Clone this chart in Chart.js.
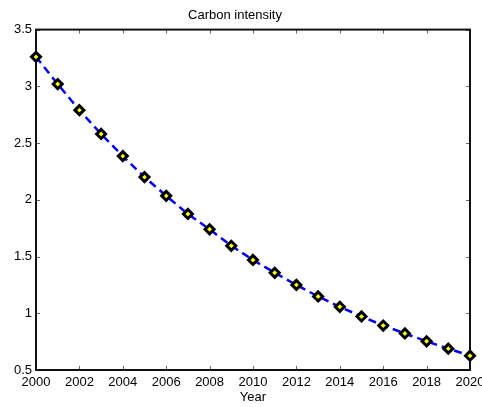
<!DOCTYPE html>
<html>
<head>
<meta charset="utf-8">
<script src="https://cdn.jsdelivr.net/npm/chart.js@4/dist/chart.umd.min.js"></script>
<style>
  html, body { margin: 0; padding: 0; background: #fff; }
  #wrap { width: 482px; height: 407px; }
</style>
</head>
<body>
<div id="wrap"><canvas id="myChart" width="482" height="407"></canvas></div>
<script>
// data
const years = [2000, 2001, 2002, 2003, 2004, 2005, 2006, 2007, 2008, 2009, 2010,
  2011, 2012, 2013, 2014, 2015, 2016, 2017, 2018, 2019, 2020];
const intensity = [3.26, 3.02, 2.79, 2.58, 2.385, 2.2, 2.035, 1.875, 1.74, 1.595, 1.47,
  1.357, 1.25, 1.148, 1.057, 0.972, 0.892, 0.822, 0.753, 0.688, 0.626];
const xTicks = [2000, 2002, 2004, 2006, 2008, 2010, 2012, 2014, 2016, 2018, 2020];
const yTicks = [0.5, 1, 1.5, 2, 2.5, 3, 3.5];
const yTickLabels = ['0.5', '1', '1.5', '2', '2.5', '3', '3.5'];

const font = { family: '"Liberation Sans", Arial, Helvetica, sans-serif', size: 13 };

// MATLAB-ish box with inward tick marks on all four sides
const boxTicks = {
  id: 'boxTicks',
  beforeDatasetsDraw(chart) {
    const { ctx, chartArea: a, scales: { x, y } } = chart;
    const len = 4;
    ctx.save();
    ctx.strokeStyle = '#666';
    ctx.lineWidth = 1;
    ctx.beginPath();
    xTicks.forEach(v => {
      const px = Math.round(x.getPixelForValue(v)) + 0.5;
      ctx.moveTo(px, a.bottom); ctx.lineTo(px, a.bottom - len);
      ctx.moveTo(px, a.top); ctx.lineTo(px, a.top + len);
    });
    yTicks.forEach(v => {
      const py = Math.round(y.getPixelForValue(v)) + 0.5;
      ctx.moveTo(a.left, py); ctx.lineTo(a.left + len, py);
      ctx.moveTo(a.right, py); ctx.lineTo(a.right - len, py);
    });
    ctx.stroke();
    ctx.strokeStyle = '#111';
    ctx.lineWidth = 2;
    ctx.strokeRect(a.left, a.top, a.right - a.left, a.bottom - a.top);
    ctx.restore();
  }
};

const ctx = document.getElementById('myChart').getContext('2d');
new Chart(ctx, {
  type: 'line',
  data: {
    datasets: [{
      data: years.map((yr, i) => ({ x: yr, y: intensity[i] })),
      borderColor: '#0000ff',
      borderWidth: 2.5,
      borderDash: [8, 5],
      tension: 0,
      pointStyle: 'rectRot',
      pointRadius: 4.5,
      pointBorderWidth: 3,
      pointBorderColor: '#000',
      pointBackgroundColor: '#ffff00',
      clip: false
    }]
  },
  options: {
    responsive: false,
    animation: false,
    events: [],
    layout: { padding: { top: 0, right: 12, bottom: 0, left: 0 } },
    plugins: {
      legend: { display: false },
      tooltip: { enabled: false },
      title: {
        display: true,
        text: 'Carbon intensity',
        color: '#000',
        font: { ...font, weight: 'normal' },
        padding: { top: 8, bottom: 6 }
      }
    },
    scales: {
      x: {
        type: 'linear',
        min: 2000,
        max: 2020,
        grid: { display: false, drawTicks: false },
        border: { display: false },
        afterBuildTicks: s => { s.ticks = xTicks.map(v => ({ value: v })); },
        ticks: { color: '#000', font, padding: 5, maxRotation: 0, autoSkip: false,
          callback: v => String(v) },
        title: { display: true, text: 'Year', color: '#000', font, padding: { top: 0, bottom: 2 } },
        afterFit: s => { s.height = 37; s.paddingLeft = 0; s.paddingRight = 0; }
      },
      y: {
        min: 0.5,
        max: 3.5,
        grid: { display: false, drawTicks: false },
        border: { display: false },
        afterBuildTicks: s => { s.ticks = yTicks.map(v => ({ value: v })); },
        ticks: { color: '#000', font, padding: 4, autoSkip: false,
          callback: v => yTickLabels[yTicks.indexOf(v)] },
        afterFit: s => { s.width = 36; s.paddingTop = 0; s.paddingBottom = 0; }
      }
    }
  },
  plugins: [boxTicks]
});
</script>
</body>
</html>
